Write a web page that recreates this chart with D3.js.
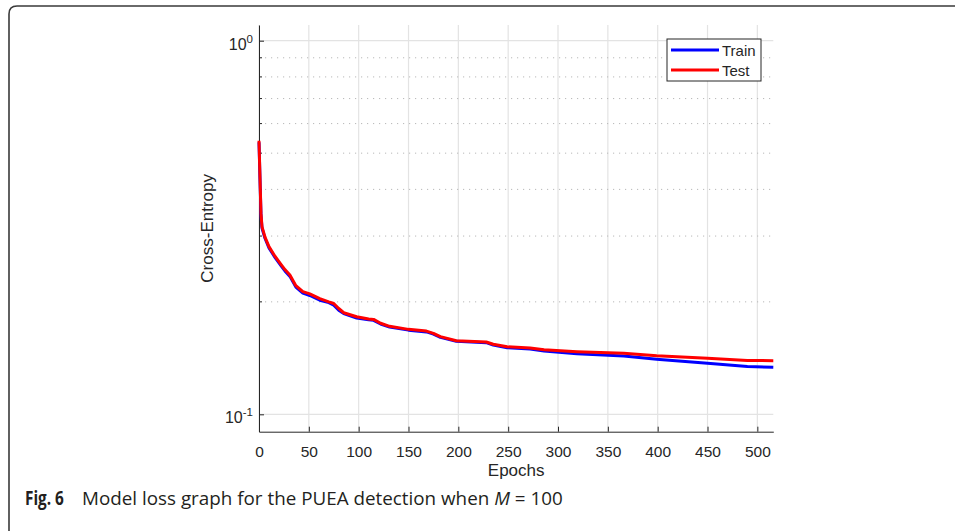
<!DOCTYPE html>
<html>
<head>
<meta charset="utf-8">
<script src="https://cdn.jsdelivr.net/npm/d3@7"></script>
<style>
  body { margin: 0; background: #fff; }
  svg { display: block; }
</style>
</head>
<body>
<div id="chart"></div>
<script>
// values
const epochs = [0, 1, 2, 3, 6, 10, 16, 22, 26, 31, 37, 44, 51, 61, 70, 75, 80, 85, 98, 110, 115, 122, 131,
    150, 168, 175, 182, 198, 228, 235, 249, 272, 286, 319, 366, 399, 450, 490, 516];
const testLoss = [0.54, 0.43, 0.345, 0.318, 0.298, 0.281, 0.265, 0.252, 0.244, 0.236, 0.221, 0.213, 0.210,
    0.204, 0.200, 0.198, 0.192, 0.187, 0.1825, 0.180, 0.1795, 0.1753, 0.172, 0.1688, 0.167, 0.1647, 0.1614,
    0.1574, 0.1562, 0.154, 0.1516, 0.1505, 0.1488, 0.1471, 0.1456, 0.1434, 0.1413, 0.1394, 0.1392];
const trainLoss = [0.535, 0.425, 0.342, 0.315, 0.296, 0.279, 0.263, 0.250, 0.242, 0.234, 0.219, 0.211, 0.208,
    0.202, 0.199, 0.196, 0.190, 0.186, 0.181, 0.179, 0.1785, 0.1745, 0.1712, 0.168, 0.1662, 0.164, 0.1607,
    0.1568, 0.1555, 0.1532, 0.1508, 0.1495, 0.1478, 0.1452, 0.1432, 0.1405, 0.137, 0.1342, 0.1336];
const xTicks = [0, 50, 100, 150, 200, 250, 300, 350, 400, 450, 500];
const yMajor = [0.1, 1];
const yMinor = [0.2, 0.3, 0.4, 0.5, 0.6, 0.7, 0.8, 0.9];
const seriesNames = ['Train', 'Test'];
const seriesColors = ['#0000ff', '#ff0000'];

const width = 955;
const height = 531;
const plot = { left: 259, right: 773.3, top: 25, bottom: 431.7 };
const ink = '#262626';
const sans = '"Liberation Sans", Arial, sans-serif';

const svg = d3.select('#chart')
    .append('svg')
    .attr('width', width)
    .attr('height', height);

svg.append('rect').attr('width', width).attr('height', height).attr('fill', '#fff');

// page frame (rounded top-left corner)
svg.append('path')
    .attr('d', `M9,${height} L9,14 Q9,6 17,6 L${width},6`)
    .attr('fill', 'none')
    .attr('stroke', '#3a3a3a')
    .attr('stroke-width', 1.6);

const x = d3.scaleLinear().domain([0, 516]).range([plot.left, plot.right]);
const y = d3.scaleLog().domain([0.08984, 1.1016]).range([plot.bottom, plot.top]);

// grid
const grid = svg.append('g');
grid.selectAll('.vg')
    .data(xTicks)
    .enter()
    .append('line')
    .attr('x1', (d) => x(d)).attr('x2', (d) => x(d))
    .attr('y1', plot.top).attr('y2', plot.bottom)
    .attr('stroke', '#e3e3e3')
    .attr('stroke-width', 1.2);
grid.selectAll('.hg')
    .data(yMajor)
    .enter()
    .append('line')
    .attr('x1', plot.left).attr('x2', plot.right)
    .attr('y1', (d) => y(d)).attr('y2', (d) => y(d))
    .attr('stroke', '#e3e3e3')
    .attr('stroke-width', 1.2);
grid.selectAll('.mg')
    .data(yMinor)
    .enter()
    .append('line')
    .attr('x1', plot.left).attr('x2', plot.right)
    .attr('y1', (d) => y(d)).attr('y2', (d) => y(d))
    .attr('stroke', '#b8b8b8')
    .attr('stroke-width', 1)
    .attr('stroke-dasharray', '1.2,4.8');

// axes
const xAxis = d3.axisBottom(x)
    .tickValues(xTicks)
    .tickSizeInner(-5)
    .tickSizeOuter(0)
    .tickPadding(14);
const gx = svg.append('g')
    .attr('transform', `translate(0,${plot.bottom})`)
    .call(xAxis);
gx.select('.domain').attr('stroke', ink).attr('stroke-width', 1);
gx.selectAll('.tick line').attr('stroke', ink);
gx.selectAll('.tick text')
    .attr('fill', ink)
    .style('font-family', sans)
    .style('font-size', '15.5px');

const yAxis = d3.axisLeft(y)
    .tickValues(yMajor)
    .tickSizeInner(-5)
    .tickSizeOuter(0)
    .tickFormat('');
const gy = svg.append('g')
    .attr('transform', `translate(${plot.left},0)`)
    .call(yAxis);
gy.select('.domain').attr('stroke', ink).attr('stroke-width', 1);
gy.selectAll('.tick line').attr('stroke', ink);

gy.selectAll('.minor')
    .data(yMinor)
    .enter()
    .append('line')
    .attr('x1', 0).attr('x2', 3)
    .attr('y1', (d) => y(d)).attr('y2', (d) => y(d))
    .attr('stroke', ink);

// log tick labels 10^n
const yLab = gy.selectAll('.ylab')
    .data(yMajor)
    .enter()
    .append('text')
    .attr('x', -6)
    .attr('y', (d) => y(d) + 9)
    .attr('text-anchor', 'end')
    .attr('fill', ink)
    .style('font-family', sans)
    .style('font-size', '16px');
yLab.append('tspan').text('10');
yLab.append('tspan')
    .attr('dy', -7)
    .style('font-size', '11.5px')
    .text((d) => Math.round(Math.log10(d)));

// axis titles
svg.append('text')
    .attr('transform', `translate(213,${(plot.top + plot.bottom) / 2}) rotate(-90)`)
    .attr('text-anchor', 'middle')
    .attr('fill', ink)
    .style('font-family', sans)
    .style('font-size', '17px')
    .text('Cross-Entropy');
svg.append('text')
    .attr('x', (plot.left + plot.right) / 2)
    .attr('y', 476)
    .attr('text-anchor', 'middle')
    .attr('fill', ink)
    .style('font-family', sans)
    .style('font-size', '17px')
    .text('Epochs');

// lines
const series = [trainLoss, testLoss];
const line = d3.line()
    .x((d, i) => x(epochs[i]))
    .y((d) => y(d));
svg.append('g')
    .selectAll('path')
    .data(series)
    .enter()
    .append('path')
    .attr('d', line)
    .attr('fill', 'none')
    .attr('stroke', (_, i) => seriesColors[i])
    .attr('stroke-width', 3)
    .attr('stroke-linejoin', 'round');

// legend
const legend = svg.append('g').attr('transform', 'translate(667,39)');
legend.append('rect')
    .attr('width', 94).attr('height', 42)
    .attr('fill', '#fff')
    .attr('stroke', ink)
    .attr('stroke-width', 1);
const item = legend.selectAll('.item')
    .data(seriesNames)
    .enter()
    .append('g')
    .attr('transform', (_, i) => `translate(0,${11 + i * 20})`);
item.append('line')
    .attr('x1', 4).attr('x2', 52)
    .attr('stroke', (_, i) => seriesColors[i])
    .attr('stroke-width', 3);
item.append('text')
    .attr('x', 55)
    .attr('y', 5.5)
    .attr('fill', ink)
    .style('font-family', sans)
    .style('font-size', '15px')
    .text((d) => d);

// caption, squeezed horizontally to the reference width
const capFont = '"Open Sans", "Noto Sans", sans-serif';
const fitX = (g, target) => {
    const w = g.node().getBBox().width;
    return w > 0 ? target / w : 1;
};
const figG = svg.append('g');
figG.append('text')
    .attr('x', 0)
    .attr('y', 0)
    .attr('fill', '#231f20')
    .style('font-family', capFont)
    .style('font-size', '19px')
    .style('font-weight', 'bold')
    .text('Fig. 6');
figG.attr('transform', `translate(25,505) scale(${fitX(figG, 39)},1)`);

const capG = svg.append('g');
const cap = capG.append('text')
    .attr('x', 0)
    .attr('y', 0)
    .attr('fill', '#231f20')
    .style('font-family', capFont)
    .style('font-size', '19px');
cap.append('tspan').text('Model loss graph for the PUEA detection when ');
cap.append('tspan').style('font-style', 'italic').text('M');
cap.append('tspan').text(' = 100');
capG.attr('transform', `translate(82,505) scale(${fitX(capG, 481)},1)`);
</script>
</body>
</html>
